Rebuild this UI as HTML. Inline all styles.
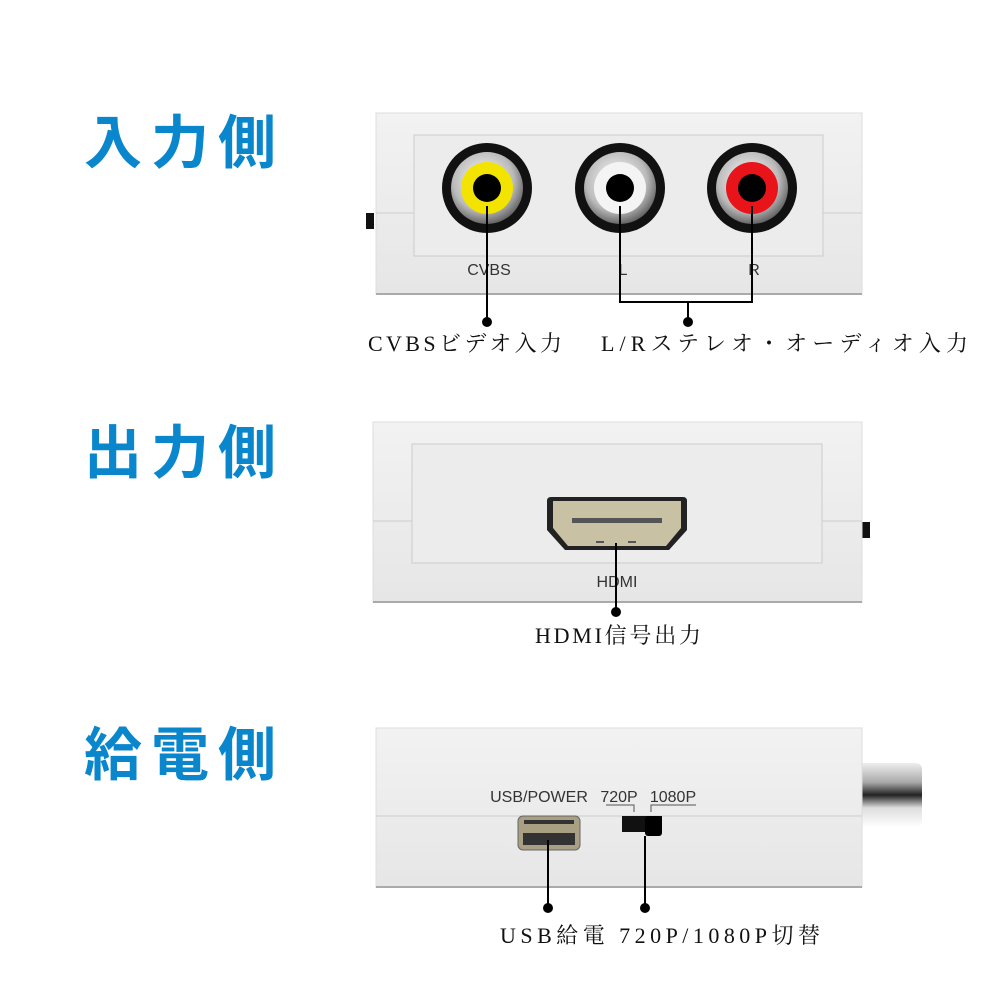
<!DOCTYPE html>
<html><head><meta charset="utf-8"><style>
html,body{margin:0;padding:0;background:#fff;}
svg{display:block}
.t{font-family:"Liberation Sans","Noto Sans CJK JP",sans-serif;font-weight:bold;fill:#0a86cc;font-size:58px;letter-spacing:9px}
.s{font-family:"Liberation Sans",sans-serif;fill:#333;font-size:16px}
.c{font-family:"Liberation Serif","Noto Serif CJK SC",serif;fill:#111;font-size:22px}
</style></head><body>
<svg width="1000" height="1000" viewBox="0 0 1000 1000" xmlns="http://www.w3.org/2000/svg">
<defs>
<linearGradient id="box" x1="0" y1="0" x2="0" y2="1"><stop offset="0" stop-color="#f2f2f2"/><stop offset="1" stop-color="#e6e6e6"/></linearGradient>
<radialGradient id="chrome" cx="0.45" cy="0.4" r="0.6"><stop offset="0" stop-color="#fff"/><stop offset="0.7" stop-color="#bbb"/><stop offset="1" stop-color="#666"/></radialGradient>
<linearGradient id="plug" x1="0" y1="0" x2="0" y2="1"><stop offset="0" stop-color="#eee"/><stop offset="0.3" stop-color="#aaa"/><stop offset="0.5" stop-color="#222"/><stop offset="0.7" stop-color="#ddd"/><stop offset="1" stop-color="#fff"/></linearGradient>
</defs>
<text class="t" x="84" y="163">入力側</text>
<text class="t" x="84" y="473">出力側</text>
<text class="t" x="84" y="775">給電側</text>

<!-- Box 1 -->
<rect x="366" y="213" width="8" height="16" fill="#111"/>
<rect x="376" y="113" width="486" height="181" fill="url(#box)" stroke="#ddd"/>
<line x1="376" y1="294" x2="862" y2="294" stroke="#aaa" stroke-width="2"/>
<rect x="414" y="135" width="409" height="121" fill="#ececec" stroke="#ccc"/>
<line x1="376" y1="213" x2="414" y2="213" stroke="#ccc"/>
<line x1="823" y1="213" x2="862" y2="213" stroke="#ccc"/>
<g>
<circle cx="487" cy="188" r="45" fill="#111"/><circle cx="487" cy="188" r="36" fill="url(#chrome)"/><circle cx="487" cy="188" r="26" fill="#f2e400"/><circle cx="487" cy="188" r="14" fill="#000"/>
<circle cx="620" cy="188" r="45" fill="#111"/><circle cx="620" cy="188" r="36" fill="url(#chrome)"/><circle cx="620" cy="188" r="26" fill="#f4f4f4"/><circle cx="620" cy="188" r="14" fill="#000"/>
<circle cx="752" cy="188" r="45" fill="#111"/><circle cx="752" cy="188" r="36" fill="url(#chrome)"/><circle cx="752" cy="188" r="26" fill="#e8141a"/><circle cx="752" cy="188" r="14" fill="#000"/>
</g>
<text class="s" x="489" y="275" text-anchor="middle">CVBS</text>
<text class="s" x="623" y="275" text-anchor="middle">L</text>
<text class="s" x="754" y="275" text-anchor="middle">R</text>
<g stroke="#000" stroke-width="2" fill="none">
<line x1="487" y1="206" x2="487" y2="322"/>
<polyline points="620,206 620,302 752,302 752,206"/>
<line x1="688" y1="302" x2="688" y2="322"/>
</g>
<circle cx="487" cy="322" r="5"/><circle cx="688" cy="322" r="5"/>
<text class="c" x="368" y="351" textLength="194" lengthAdjust="spacing">CVBSビデオ入力</text>
<text class="c" x="601" y="351" textLength="367" lengthAdjust="spacing">L/Rステレオ・オーディオ入力</text>

<!-- Box 2 -->
<rect x="862" y="522" width="8" height="16" fill="#111"/>
<rect x="373" y="422" width="489" height="180" fill="url(#box)" stroke="#ddd"/>
<line x1="373" y1="602" x2="862" y2="602" stroke="#aaa" stroke-width="2"/>
<rect x="412" y="444" width="410" height="119" fill="#ececec" stroke="#ccc"/>
<line x1="373" y1="521" x2="412" y2="521" stroke="#ccc"/>
<line x1="822" y1="521" x2="862" y2="521" stroke="#ccc"/>
<path d="M551,497 H683 Q687,497 687,501 V530 L669,550 H565 L547,530 V501 Q547,497 551,497 Z" fill="#222"/>
<path d="M553,501 H681 V528 L666,546 H568 L553,528 Z" fill="#c9c1a4"/>
<rect x="572" y="518" width="90" height="5" fill="#555"/>
<rect x="596" y="541" width="8" height="2" fill="#555"/><rect x="628" y="541" width="8" height="2" fill="#555"/>
<text class="s" x="617" y="587" text-anchor="middle">HDMI</text>
<line x1="616" y1="543" x2="616" y2="612" stroke="#000" stroke-width="2"/>
<circle cx="616" cy="612" r="5"/>
<text class="c" x="535" y="643" textLength="166" lengthAdjust="spacing">HDMI信号出力</text>

<!-- Box 3 -->
<rect x="850" y="763" width="72" height="64" rx="6" fill="url(#plug)"/>
<rect x="376" y="728" width="486" height="159" fill="url(#box)" stroke="#ddd"/>
<line x1="376" y1="887" x2="862" y2="887" stroke="#aaa" stroke-width="2"/>
<line x1="376" y1="816" x2="862" y2="816" stroke="#ccc"/>
<text class="s" x="539" y="802" text-anchor="middle" font-size="15">USB/POWER</text>
<text class="s" x="619" y="802" text-anchor="middle" font-size="14">720P</text>
<text class="s" x="673" y="802" text-anchor="middle" font-size="14">1080P</text>
<path d="M606,805 H634 V812 M651,812 V805 H696" stroke="#555" fill="none"/>
<rect x="518" y="816" width="62" height="34" rx="5" fill="#a99f82" stroke="#666"/>
<rect x="524" y="820" width="50" height="4" fill="#333"/>
<rect x="523" y="833" width="52" height="12" fill="#333"/>
<rect x="622" y="816" width="40" height="16" fill="#111"/>
<rect x="645" y="816" width="17" height="20" rx="3" fill="#000"/>
<line x1="548" y1="840" x2="548" y2="908" stroke="#000" stroke-width="2"/>
<line x1="645" y1="836" x2="645" y2="908" stroke="#000" stroke-width="2"/>
<circle cx="548" cy="908" r="5"/><circle cx="645" cy="908" r="5"/>
<text class="c" x="500" y="943" textLength="320" lengthAdjust="spacing">USB給電 720P/1080P切替</text>
</svg>
</body></html>
